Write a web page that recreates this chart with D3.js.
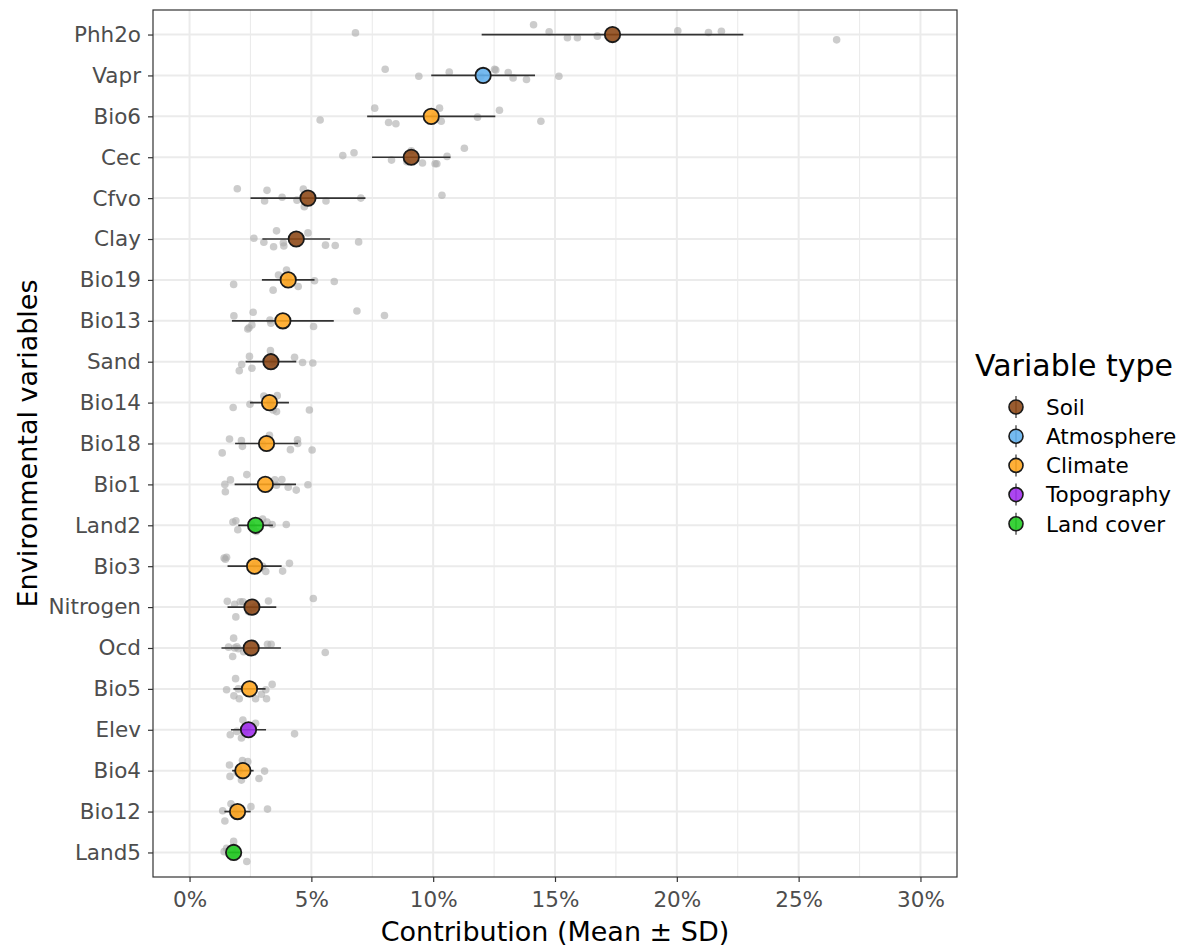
<!DOCTYPE html>
<html>
<head>
<meta charset="utf-8">
<script src="https://cdn.jsdelivr.net/npm/d3@7"></script>
<style>
body { margin: 0; background: #ffffff; }
svg text { font-family: "DejaVu Sans", sans-serif; }
</style>
</head>
<body>
<div class="viz"></div>
<script>
// variables, top row first
var variables = ["Phh2o", "Vapr", "Bio6", "Cec", "Cfvo", "Clay", "Bio19", "Bio13", "Sand", "Bio14", "Bio18",
    "Bio1", "Land2", "Bio3", "Nitrogen", "Ocd", "Bio5", "Elev", "Bio4", "Bio12", "Land5"];

var variableTypes = ["Soil", "Atmosphere", "Climate", "Soil", "Soil", "Soil", "Climate", "Climate", "Soil", "Climate", "Climate",
    "Climate", "Land cover", "Climate", "Soil", "Soil", "Climate", "Topography", "Climate", "Climate", "Land cover"];

var meanContrib = [17.36, 12.05, 9.92, 9.10, 4.86, 4.38, 4.05, 3.83, 3.34, 3.28, 3.16,
    3.11, 2.71, 2.67, 2.56, 2.53, 2.46, 2.42, 2.19, 1.97, 1.81];

var sdContrib = [5.37, 2.13, 2.63, 1.61, 2.36, 1.39, 1.08, 2.09, 1.04, 0.80, 1.29,
    1.26, 0.71, 1.11, 1.00, 1.22, 0.66, 0.72, 0.44, 0.54, 0.25];

// single runs (10 per variable), in %
var runContrib = [
    [6.81, 14.12, 14.76, 15.51, 15.92, 16.74, 20.04, 21.30, 21.83, 26.56],
    [8.03, 9.41, 10.66, 11.96, 12.52, 12.57, 13.08, 13.28, 13.83, 15.16],
    [5.36, 7.60, 8.17, 8.47, 10.05, 10.26, 10.33, 11.82, 12.72, 14.42],
    [6.29, 6.75, 8.29, 8.92, 9.10, 9.56, 10.08, 10.15, 10.57, 11.28],
    [1.96, 3.08, 3.18, 3.80, 4.41, 4.67, 4.71, 5.60, 7.03, 10.36],
    [2.64, 3.05, 3.45, 3.57, 3.85, 3.87, 4.86, 5.58, 5.98, 6.94],
    [1.81, 3.43, 3.65, 3.98, 4.00, 4.05, 4.10, 4.46, 5.13, 5.94],
    [1.82, 2.39, 2.44, 2.56, 2.61, 3.30, 3.34, 5.09, 6.87, 8.00],
    [2.04, 2.14, 2.46, 2.56, 3.32, 3.40, 3.47, 4.31, 4.64, 5.06],
    [1.79, 2.48, 3.05, 3.30, 3.32, 3.34, 3.43, 3.57, 3.60, 4.92],
    [1.34, 1.64, 2.13, 2.17, 3.00, 3.28, 4.14, 4.43, 4.44, 5.03],
    [1.45, 1.47, 1.68, 2.35, 3.50, 3.57, 3.79, 4.05, 4.38, 4.86],
    [1.78, 1.90, 1.98, 2.55, 2.61, 2.74, 3.00, 3.18, 3.39, 3.97],
    [1.42, 1.47, 1.52, 2.60, 2.70, 2.90, 3.00, 3.13, 3.82, 4.10],
    [1.55, 1.85, 1.90, 2.08, 2.19, 2.42, 2.60, 2.70, 3.24, 5.08],
    [1.60, 1.77, 1.81, 1.85, 1.94, 2.00, 2.22, 3.20, 3.35, 5.57],
    [1.52, 1.82, 1.89, 2.00, 2.04, 2.71, 2.95, 3.13, 3.16, 3.39],
    [1.67, 1.94, 2.13, 2.19, 2.25, 2.30, 2.35, 2.40, 2.71, 4.31],
    [1.64, 1.66, 1.95, 2.00, 2.05, 2.13, 2.17, 2.39, 2.85, 3.08],
    [1.36, 1.45, 1.70, 1.80, 1.85, 1.90, 1.95, 2.00, 2.52, 3.20],
    [1.42, 1.52, 1.70, 1.75, 1.80, 1.81, 1.85, 1.90, 1.95, 2.35]
];

// vertical jitter of the runs, in category units
var runJitter = [
    [-0.04, -0.24, -0.07, 0.08, 0.08, 0.04, -0.09, -0.05, -0.08, 0.13],
    [-0.15, 0.02, -0.08, 0.02, -0.15, -0.13, -0.07, 0.06, 0.10, 0.02],
    [0.09, -0.20, 0.15, 0.18, 0.00, -0.20, 0.12, 0.02, -0.15, 0.12],
    [-0.04, -0.11, 0.07, 0.11, -0.16, 0.14, 0.16, 0.16, -0.02, -0.22],
    [-0.23, 0.07, -0.19, -0.02, 0.05, -0.22, 0.21, 0.07, 0.00, -0.07],
    [-0.02, 0.08, 0.19, -0.20, 0.09, 0.17, -0.15, 0.15, 0.16, 0.07],
    [0.11, 0.25, -0.12, -0.24, 0.05, -0.05, 0.07, 0.16, 0.02, 0.04],
    [-0.12, 0.20, 0.17, 0.10, -0.21, -0.02, 0.06, 0.14, -0.24, -0.13],
    [0.22, 0.07, -0.13, 0.16, -0.27, 0.02, -0.02, -0.11, 0.02, 0.03],
    [0.12, 0.04, -0.16, -0.02, 0.02, 0.05, 0.18, 0.22, -0.17, 0.18],
    [0.23, -0.11, -0.07, 0.07, 0.02, -0.20, 0.15, -0.09, 0.00, 0.16],
    [0.00, 0.18, -0.11, -0.24, -0.11, 0.02, -0.12, 0.07, 0.14, 0.01],
    [-0.08, -0.11, 0.11, -0.02, 0.05, 0.15, -0.15, -0.08, -0.02, -0.02],
    [-0.20, -0.17, -0.22, 0.02, -0.05, 0.05, 0.00, 0.13, 0.12, -0.07],
    [-0.14, -0.07, 0.24, -0.13, -0.13, 0.11, 0.02, -0.02, -0.15, -0.21],
    [-0.02, 0.21, -0.24, 0.00, -0.03, 0.02, 0.09, -0.09, -0.09, 0.11],
    [0.02, 0.17, -0.25, 0.00, 0.24, 0.24, 0.13, 0.02, 0.24, -0.11],
    [0.12, 0.04, 0.20, -0.24, 0.07, -0.05, 0.02, -0.10, -0.16, 0.10],
    [-0.14, 0.14, 0.05, -0.05, 0.00, 0.23, -0.25, -0.22, 0.19, 0.01],
    [-0.02, 0.23, -0.19, -0.10, 0.05, 0.10, -0.05, 0.02, -0.12, -0.06],
    [-0.02, -0.10, 0.07, -0.07, 0.05, -0.27, 0.12, 0.02, -0.05, 0.22]
];

var typeNames = ["Soil", "Atmosphere", "Climate", "Topography", "Land cover"];
var xTickValues = [0, 5, 10, 15, 20, 25, 30];
var xMinorValues = [2.5, 7.5, 12.5, 17.5, 22.5, 27.5];

var width = 1184,
    height = 949,
    panel = {left: 153, right: 957, top: 10, bottom: 877};

var svg = d3.select('.viz').append('svg')
    .attr('width', width)
    .attr('height', height);

var x = d3.scaleLinear()
    .domain([-1.5, 31.5])
    .range([panel.left, panel.right]);

var y = d3.scalePoint()
    .domain(variables)
    .range([panel.top, panel.bottom])
    .padding(0.6);

var color = d3.scaleOrdinal()
    .domain(typeNames)
    .range(["#8b4513", "#62b0ee", "#ffa51c", "#a02cef", "#1fcc1f"]);

var rows = variables.map(function(v, i) {
    return {name: v, type: variableTypes[i], mean: meanContrib[i], sd: sdContrib[i]};
});

var runs = [];
variables.forEach(function(v, i) {
    runContrib[i].forEach(function(val, j) {
        runs.push({name: v, value: val, jitter: runJitter[i][j]});
    });
});

// grid
var grid = svg.append('g').attr('class', 'grid');

grid.selectAll('line.minor')
    .data(xMinorValues)
    .enter().append('line')
    .attr('class', 'minor')
    .attr('x1', d => x(d)).attr('x2', d => x(d))
    .attr('y1', panel.top).attr('y2', panel.bottom)
    .attr('stroke', '#ebebeb')
    .attr('stroke-width', 1.1);

grid.selectAll('line.major-x')
    .data(xTickValues)
    .enter().append('line')
    .attr('class', 'major-x')
    .attr('x1', d => x(d)).attr('x2', d => x(d))
    .attr('y1', panel.top).attr('y2', panel.bottom)
    .attr('stroke', '#ebebeb')
    .attr('stroke-width', 2);

grid.selectAll('line.major-y')
    .data(variables)
    .enter().append('line')
    .attr('class', 'major-y')
    .attr('x1', panel.left).attr('x2', panel.right)
    .attr('y1', d => y(d)).attr('y2', d => y(d))
    .attr('stroke', '#ebebeb')
    .attr('stroke-width', 2);

// single runs
svg.append('g')
    .selectAll('circle')
    .data(runs)
    .enter().append('circle')
    .attr('cx', d => x(d.value))
    .attr('cy', d => y(d.name) + d.jitter * y.step())
    .attr('r', 3.8)
    .attr('fill', '#aaaaaa')
    .attr('fill-opacity', 0.6);

// mean +- sd
svg.append('g')
    .selectAll('line')
    .data(rows)
    .enter().append('line')
    .attr('x1', d => x(d.mean - d.sd))
    .attr('x2', d => x(d.mean + d.sd))
    .attr('y1', d => y(d.name))
    .attr('y2', d => y(d.name))
    .attr('stroke', '#333333')
    .attr('stroke-width', 1.7);

svg.append('g')
    .selectAll('circle')
    .data(rows)
    .enter().append('circle')
    .attr('cx', d => x(d.mean))
    .attr('cy', d => y(d.name))
    .attr('r', 7.7)
    .attr('fill', d => color(d.type))
    .attr('fill-opacity', 0.88)
    .attr('stroke', '#1a1a1a')
    .attr('stroke-width', 1.8);

// panel border
svg.append('rect')
    .attr('x', panel.left)
    .attr('y', panel.top)
    .attr('width', panel.right - panel.left)
    .attr('height', panel.bottom - panel.top)
    .attr('fill', 'none')
    .attr('stroke', '#333333')
    .attr('stroke-width', 1.2);

// axes
var xAxis = svg.append('g')
    .attr('transform', 'translate(0,' + panel.bottom + ')')
    .call(d3.axisBottom(x).tickValues(xTickValues).tickFormat(d => d + '%').tickSize(5).tickSizeOuter(0).tickPadding(10));

var yAxis = svg.append('g')
    .attr('transform', 'translate(' + panel.left + ',0)')
    .call(d3.axisLeft(y).tickSize(5).tickSizeOuter(0).tickPadding(7));

[xAxis, yAxis].forEach(function(ax) {
    ax.select('.domain').remove();
    ax.selectAll('.tick line').attr('stroke', '#333333').attr('stroke-width', 1.2);
    ax.selectAll('.tick text')
        .attr('fill', '#4d4d4d')
        .style('font-size', '21.5px')
        .style('font-family', '"DejaVu Sans", sans-serif');
});

svg.append('text')
    .attr('x', (panel.left + panel.right) / 2)
    .attr('y', 941)
    .attr('text-anchor', 'middle')
    .style('font-size', '27px')
    .text('Contribution (Mean ± SD)');

svg.append('text')
    .attr('transform', 'translate(37,' + (panel.top + panel.bottom) / 2 + ')rotate(-90)')
    .attr('text-anchor', 'middle')
    .style('font-size', '27px')
    .text('Environmental variables');

// legend
var legend = svg.append('g')
    .attr('transform', 'translate(975,0)');

legend.append('text')
    .attr('x', 0)
    .attr('y', 376)
    .style('font-size', '30px')
    .text('Variable type');

var keys = legend.selectAll('g.key')
    .data(typeNames)
    .enter().append('g')
    .attr('class', 'key')
    .attr('transform', (d, i) => 'translate(0,' + (407 + i * 29.2) + ')');

keys.append('line')
    .attr('x1', 41).attr('x2', 41)
    .attr('y1', -11).attr('y2', 11)
    .attr('stroke', '#333333')
    .attr('stroke-width', 1.2);

keys.append('circle')
    .attr('cx', 41)
    .attr('cy', 0)
    .attr('r', 7)
    .attr('fill', d => color(d))
    .attr('fill-opacity', 0.88)
    .attr('stroke', '#1a1a1a')
    .attr('stroke-width', 1.6);

keys.append('text')
    .attr('x', 71)
    .attr('y', 0)
    .attr('dy', '0.36em')
    .style('font-size', '21.5px')
    .text(d => d);
</script>
</body>
</html>
